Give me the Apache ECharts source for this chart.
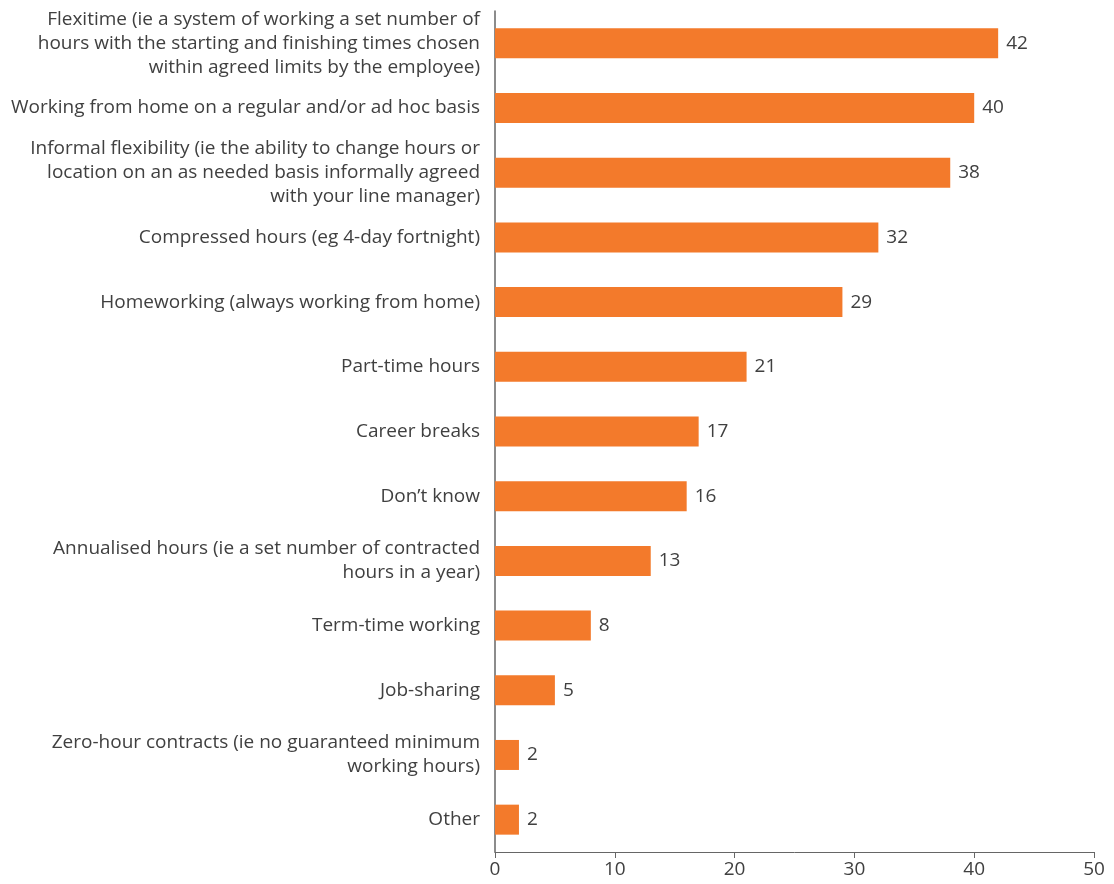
<!DOCTYPE html>
<html>
<head>
<meta charset="utf-8">
<script src="https://cdn.jsdelivr.net/npm/echarts@6/dist/echarts.min.js"></script>
<style>
  html, body { margin: 0; padding: 0; background: #ffffff; }
  #chart { width: 1114px; height: 884px; }
</style>
</head>
<body>
<div id="chart"></div>
<script>
// Flexible working arrangements offered (%), top to bottom
const categories = [
  'Flexitime (ie a system of working a set number of\nhours with the starting and finishing times chosen\nwithin agreed limits by the employee)',
  'Working from home on a regular and/or ad hoc basis',
  'Informal flexibility (ie the ability to change hours or\nlocation on an as needed basis informally agreed\nwith your line manager)',
  'Compressed hours (eg 4-day fortnight)',
  'Homeworking (always working from home)',
  'Part-time hours',
  'Career breaks',
  'Don\u2019t know',
  'Annualised hours (ie a set number of contracted\nhours in a year)',
  'Term-time working',
  'Job-sharing',
  'Zero-hour contracts (ie no guaranteed minimum\nworking hours)',
  'Other'
];
const values = [42, 40, 38, 32, 29, 21, 17, 16, 13, 8, 5, 2, 2];
const xTicks = [0, 10, 20, 30, 40, 50];

const textColor = '#404040';
const fontFamily = '"Open Sans", "Noto Sans", sans-serif';

const chart = echarts.init(document.getElementById('chart'));
chart.setOption({
  animation: false,
  grid: { left: 495, right: 20, top: 11, bottom: 32, containLabel: false },
  xAxis: {
    type: 'value',
    min: xTicks[0],
    max: xTicks[xTicks.length - 1],
    interval: 10,
    splitLine: { show: false },
    axisLine: { show: true, lineStyle: { color: '#666666', width: 1 } },
    axisTick: { show: true, length: 6, lineStyle: { color: '#666666' } },
    axisLabel: { color: textColor, fontSize: 19, fontFamily: fontFamily, margin: 8 }
  },
  yAxis: {
    type: 'category',
    inverse: true,
    data: categories,
    axisLine: { show: true, lineStyle: { color: '#666666', width: 1.5 } },
    axisTick: { show: false },
    axisLabel: {
      color: textColor, fontSize: 19, fontFamily: fontFamily,
      lineHeight: 24, align: 'right', margin: 15
    }
  },
  series: [{
    type: 'bar',
    data: values,
    barWidth: 30,
    itemStyle: { color: '#f37a2b' },
    label: {
      show: true, position: 'right', distance: 8,
      color: textColor, fontSize: 19, fontFamily: fontFamily
    }
  }]
});
</script>
</body>
</html>
